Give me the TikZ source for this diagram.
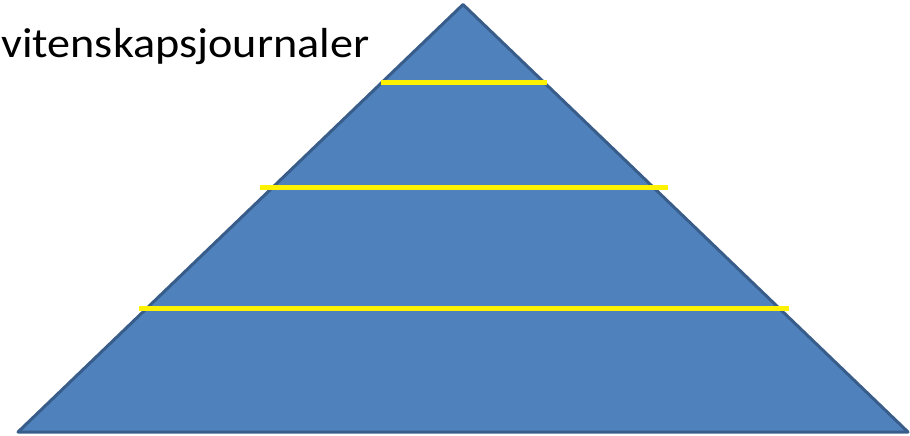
\documentclass[tikz,border=0pt]{standalone}
\usepackage{fontspec}
\setmainfont{Carlito}
\usetikzlibrary{positioning}

\definecolor{pyrfill}{HTML}{4F81BD}
\definecolor{pyredge}{HTML}{385D8A}

\begin{document}
\begin{tikzpicture}[x=1pt, y=-1pt,
	pyramid/.style = {fill = pyrfill, draw = pyredge, line width = 3pt, line join = round},
	level/.style = {draw = yellow, line width = 4.5pt}]
	\useasboundingbox (0,0) rectangle (910,436);
	\coordinate (apex) at (463,4.5);
	\coordinate (left) at (18,432);
	\coordinate (right) at (908,432);
	\draw [pyramid] (apex) -- (left) -- (right) -- cycle;
	% levels
	\coordinate (l1a) at (381,82.5);
	\coordinate (l1b) at (547,82.5);
	\coordinate (l2a) at (260,187.5);
	\coordinate (l2b) at (668,187.5);
	\coordinate (l3a) at (139,308.5);
	\coordinate (l3b) at (789,308.5);
	\draw [level] (l1a) -- (l1b);
	\draw [level] (l2a) -- (l2b);
	\draw [level] (l3a) -- (l3b);
	\node (title) [anchor = base west, inner sep = 0pt, xscale = 1.1, font = \fontsize{42}{48}\selectfont] at (1,58) {vitenskapsjournaler};
\end{tikzpicture}
\end{document}
